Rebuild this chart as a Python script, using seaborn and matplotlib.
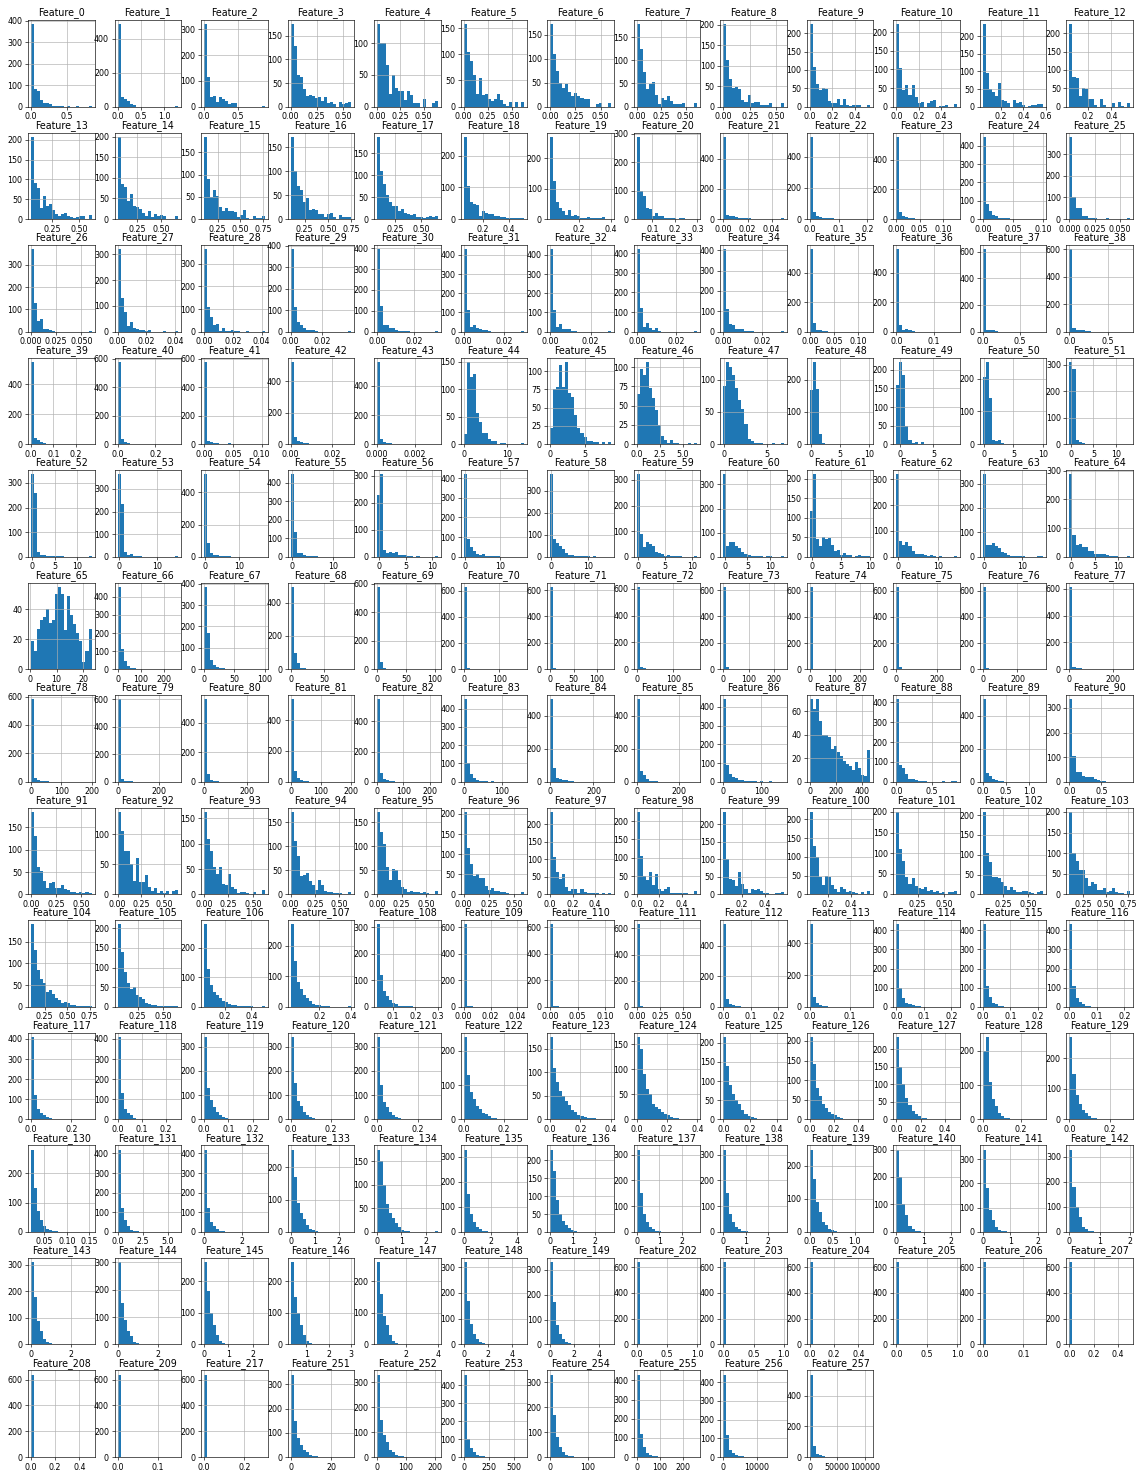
import numpy as np
import pandas as pd
import matplotlib
matplotlib.use("Agg")
import matplotlib.pyplot as plt
from matplotlib.ticker import MaxNLocator
import seaborn as sns

# ---------------------------------------------------------------------------
# Feature names, value ranges (lo, hi) and 20-bin histogram counts per row
# ---------------------------------------------------------------------------
names_r1 = [f"Feature_{i}" for i in range(0, 13)]
ranges_r1 = [(0, 0.85), (0, 1.3), (0, 0.9), (0, 0.58), (0, 0.65), (0, 0.63), (0, 0.6),
             (0, 0.62), (0, 0.57), (0, 0.54), (0, 0.54), (0.04, 0.58), (0.04, 0.56)]
counts_r1 = [
    [385, 80, 72, 32, 15, 18, 10, 5, 2, 5, 5, 0, 2, 0, 0, 5, 0, 0, 0, 1],
    [485, 55, 45, 35, 15, 8, 0, 0, 0, 0, 0, 0, 0, 0, 0, 0, 0, 0, 0, 1],
    [320, 115, 38, 42, 18, 38, 28, 20, 10, 15, 15, 0, 0, 0, 0, 0, 0, 0, 0, 1],
    [175, 128, 68, 62, 38, 22, 25, 22, 18, 20, 12, 20, 8, 10, 5, 0, 10, 5, 8, 10],
    [130, 100, 100, 65, 20, 50, 30, 25, 25, 10, 25, 18, 5, 5, 0, 12, 0, 0, 6, 8],
    [158, 105, 88, 60, 25, 55, 22, 25, 15, 10, 15, 25, 12, 5, 2, 8, 0, 8, 0, 8],
    [172, 110, 75, 50, 38, 48, 30, 22, 28, 22, 18, 15, 15, 0, 0, 5, 8, 0, 0, 8],
    [178, 125, 75, 38, 48, 52, 25, 5, 18, 15, 22, 12, 5, 5, 5, 8, 0, 0, 0, 8],
    [202, 115, 68, 45, 48, 42, 15, 10, 28, 8, 10, 10, 5, 5, 5, 8, 0, 0, 0, 8],
    [225, 108, 62, 45, 52, 48, 15, 10, 10, 20, 5, 20, 5, 2, 5, 5, 5, 0, 0, 5],
    [222, 105, 45, 58, 32, 58, 25, 10, 12, 0, 10, 15, 18, 0, 2, 2, 5, 0, 0, 8],
    [235, 95, 50, 42, 30, 68, 20, 15, 10, 0, 18, 10, 12, 5, 0, 2, 5, 5, 8, 8],
    [225, 82, 78, 28, 50, 48, 22, 22, 5, 0, 22, 5, 0, 0, 10, 0, 12, 2, 0, 10],
]

names_r2 = [f"Feature_{i}" for i in range(13, 26)]
ranges_r2 = [(0.05, 0.62), (0.05, 0.68), (0.1, 0.77), (0.1, 0.75), (0.08, 0.66), (0.05, 0.52),
             (0.02, 0.4), (0.03, 0.3), (0, 0.05), (0, 0.21), (0, 0.13), (0, 0.1), (0, 0.06)]
counts_r2 = [
    [208, 92, 78, 28, 58, 32, 38, 22, 12, 8, 12, 15, 8, 5, 2, 5, 8, 8, 0, 10],
    [200, 85, 78, 45, 62, 32, 30, 25, 15, 8, 20, 5, 12, 8, 10, 8, 0, 0, 0, 8],
    [185, 90, 50, 65, 52, 28, 18, 25, 18, 18, 15, 5, 10, 20, 2, 0, 8, 2, 2, 8],
    [172, 100, 70, 60, 35, 45, 20, 22, 20, 10, 10, 5, 10, 12, 5, 0, 8, 5, 5, 5],
    [188, 110, 80, 55, 40, 30, 30, 18, 22, 15, 12, 10, 12, 5, 5, 2, 5, 8, 5, 8],
    [260, 105, 55, 48, 45, 10, 25, 18, 15, 15, 10, 10, 8, 8, 2, 2, 2, 5, 5, 2],
    [270, 125, 55, 38, 25, 15, 30, 10, 12, 10, 5, 5, 8, 5, 5, 5, 5, 8, 2, 2],
    [290, 100, 82, 40, 35, 12, 20, 10, 12, 5, 5, 5, 5, 2, 5, 5, 0, 2, 0, 2],
    [545, 30, 20, 18, 12, 8, 5, 5, 5, 2, 2, 2, 0, 0, 0, 0, 0, 0, 0, 5],
    [530, 45, 22, 12, 8, 8, 5, 5, 2, 2, 2, 2, 0, 2, 0, 2, 0, 0, 0, 2],
    [555, 45, 20, 12, 5, 5, 3, 3, 3, 3, 2, 3, 2, 2, 2, 2, 0, 0, 0, 3],
    [450, 80, 45, 25, 15, 8, 8, 5, 5, 0, 0, 0, 0, 0, 0, 3, 0, 3, 0, 3],
    [380, 100, 52, 50, 15, 15, 5, 5, 3, 0, 0, 2, 5, 0, 0, 0, 0, 0, 0, 3],
]

names_r3 = [f"Feature_{i}" for i in range(26, 39)]
ranges_r3 = [(0, 0.06), (0, 0.042), (0, 0.042), (0, 0.038), (0, 0.033), (0, 0.03), (0, 0.03),
             (0, 0.031), (0, 0.031), (0, 0.125), (0, 0.16), (0, 0.82), (0, 0.78)]
counts_r3 = [
    [370, 130, 48, 58, 10, 10, 8, 5, 0, 0, 0, 0, 0, 0, 0, 0, 0, 0, 0, 1],
    [320, 132, 75, 22, 38, 15, 10, 5, 5, 2, 5, 0, 0, 0, 0, 2, 0, 0, 0, 1],
    [365, 110, 65, 30, 32, 5, 15, 5, 5, 8, 5, 5, 0, 0, 3, 0, 0, 0, 0, 1],
    [385, 115, 45, 30, 15, 10, 8, 8, 2, 0, 0, 0, 0, 0, 0, 0, 0, 0, 0, 1],
    [395, 122, 32, 32, 18, 18, 10, 2, 5, 3, 5, 0, 0, 0, 0, 0, 0, 0, 0, 1],
    [430, 115, 25, 35, 20, 12, 10, 8, 2, 0, 0, 0, 0, 0, 0, 0, 0, 0, 0, 1],
    [430, 115, 25, 40, 15, 12, 12, 5, 2, 0, 0, 0, 0, 0, 0, 0, 0, 0, 0, 1],
    [420, 118, 25, 45, 18, 8, 18, 5, 0, 0, 0, 0, 0, 0, 0, 0, 0, 0, 0, 1],
    [405, 110, 40, 32, 15, 15, 12, 5, 2, 2, 0, 0, 0, 0, 0, 0, 0, 0, 0, 5],
    [560, 60, 12, 8, 5, 2, 0, 0, 0, 0, 0, 0, 0, 0, 0, 0, 0, 0, 0, 1],
    [560, 45, 12, 20, 8, 5, 0, 0, 0, 0, 0, 0, 0, 0, 0, 0, 0, 0, 0, 1],
    [620, 15, 10, 10, 2, 0, 0, 0, 0, 0, 0, 0, 0, 0, 0, 0, 0, 0, 0, 1],
    [600, 25, 10, 10, 10, 2, 5, 0, 0, 0, 0, 0, 0, 0, 0, 0, 0, 0, 0, 1],
]

names_r4 = [f"Feature_{i}" for i in range(39, 52)]
ranges_r4 = [(0, 0.27), (0, 0.32), (0, 0.105), (0, 0.029), (0, 0.0032), (0, 14), (0, 8.8),
             (0, 6.6), (-0.1, 7), (-0.2, 10.2), (-0.5, 8.5), (-0.1, 10), (-0.4, 13.2)]
counts_r4 = [
    [550, 40, 25, 15, 5, 0, 0, 0, 0, 0, 0, 0, 0, 0, 0, 0, 0, 0, 0, 1],
    [580, 40, 15, 10, 3, 0, 0, 0, 0, 0, 0, 0, 0, 0, 0, 0, 0, 0, 0, 1],
    [580, 20, 15, 8, 5, 3, 2, 2, 5, 2, 0, 0, 0, 0, 0, 0, 0, 0, 0, 1],
    [525, 45, 20, 15, 8, 5, 3, 2, 2, 0, 0, 0, 0, 0, 0, 0, 0, 0, 0, 1],
    [565, 35, 15, 10, 5, 3, 2, 0, 0, 2, 0, 2, 0, 0, 0, 0, 0, 0, 0, 1],
    [18, 150, 122, 128, 57, 40, 20, 20, 10, 5, 5, 0, 2, 2, 0, 0, 0, 0, 0, 2],
    [22, 75, 78, 108, 78, 113, 70, 65, 40, 22, 15, 10, 5, 5, 3, 3, 0, 3, 0, 3],
    [65, 98, 90, 107, 73, 60, 45, 25, 10, 5, 2, 5, 2, 2, 0, 0, 0, 1, 0, 1],
    [90, 128, 120, 108, 88, 68, 55, 32, 8, 5, 2, 2, 2, 0, 0, 0, 2, 0, 0, 2],
    [168, 255, 170, 30, 5, 2, 2, 2, 0, 0, 0, 0, 0, 0, 0, 0, 0, 0, 0, 1],
    [160, 222, 185, 48, 12, 3, 5, 0, 5, 0, 0, 0, 0, 0, 0, 0, 0, 0, 0, 1],
    [205, 252, 140, 12, 10, 12, 3, 2, 0, 0, 0, 0, 0, 0, 0, 0, 0, 0, 0, 1],
    [312, 285, 15, 8, 5, 2, 2, 2, 2, 2, 0, 0, 0, 0, 0, 0, 0, 0, 0, 1],
]

names_r5 = [f"Feature_{i}" for i in range(52, 65)]
ranges_r5 = [(-0.2, 13.2), (-0.3, 15.5), (-0.3, 17.5), (-0.4, 14.5), (-0.3, 11), (-0.3, 17),
             (-0.3, 16), (-0.3, 11), (-0.3, 13), (-0.3, 10), (-0.3, 14.5), (-0.3, 15.5), (-0.3, 12.5)]
counts_r5 = [
    [335, 260, 20, 8, 5, 2, 2, 2, 2, 2, 2, 0, 0, 0, 0, 0, 0, 0, 0, 1],
    [365, 235, 20, 8, 10, 3, 3, 2, 0, 0, 0, 0, 0, 0, 0, 0, 0, 0, 0, 1],
    [512, 85, 25, 12, 8, 3, 3, 2, 2, 0, 0, 0, 0, 0, 0, 0, 0, 0, 0, 1],
    [445, 135, 20, 20, 10, 5, 3, 2, 2, 0, 0, 0, 0, 0, 0, 0, 0, 0, 0, 1],
    [230, 305, 25, 15, 18, 15, 18, 5, 5, 5, 2, 2, 0, 2, 0, 0, 0, 0, 0, 1],
    [420, 88, 50, 30, 15, 8, 15, 5, 5, 2, 2, 2, 0, 0, 0, 0, 0, 0, 0, 1],
    [375, 80, 62, 48, 35, 15, 10, 8, 5, 5, 3, 3, 2, 0, 2, 0, 0, 0, 0, 1],
    [322, 90, 38, 58, 50, 40, 18, 15, 10, 2, 5, 2, 2, 2, 2, 0, 0, 0, 0, 2],
    [342, 45, 62, 60, 45, 35, 20, 10, 8, 3, 2, 2, 2, 0, 2, 2, 0, 0, 0, 2],
    [118, 212, 45, 28, 50, 45, 48, 30, 15, 18, 5, 10, 5, 5, 0, 2, 5, 2, 2, 2],
    [320, 62, 45, 58, 42, 22, 12, 10, 10, 5, 2, 5, 2, 0, 2, 0, 0, 0, 0, 2],
    [338, 48, 50, 55, 42, 35, 18, 15, 8, 5, 5, 2, 2, 2, 0, 0, 0, 0, 2, 2],
    [288, 75, 42, 45, 35, 35, 20, 20, 10, 8, 10, 8, 5, 2, 2, 2, 0, 0, 0, 2],
]

names_r6 = [f"Feature_{i}" for i in range(65, 78)]
ranges_r6 = [(0.5, 23), (0, 260), (0, 100), (0, 90), (0, 105), (0, 170), (0, 130),
             (0, 165), (0, 240), (0, 240), (0, 300), (0, 350), (0, 280)]
counts_r6 = [
    [19, 12, 27, 33, 35, 40, 31, 33, 50, 55, 50, 26, 49, 36, 30, 24, 19, 5, 12, 27],
    [455, 110, 48, 18, 8, 5, 2, 2, 2, 0, 2, 0, 0, 0, 0, 0, 0, 0, 0, 1],
    [385, 170, 45, 20, 12, 5, 5, 3, 2, 2, 2, 3, 2, 2, 0, 0, 2, 0, 0, 2],
    [495, 100, 35, 10, 5, 2, 2, 0, 0, 0, 0, 0, 0, 0, 0, 0, 0, 0, 0, 1],
    [580, 50, 10, 5, 2, 0, 0, 0, 0, 0, 0, 0, 0, 0, 0, 0, 0, 0, 0, 1],
    [630, 10, 3, 5, 0, 0, 0, 0, 0, 0, 0, 0, 0, 0, 0, 0, 0, 0, 0, 1],
    [625, 10, 3, 3, 0, 0, 0, 0, 0, 0, 0, 0, 0, 0, 0, 0, 0, 0, 0, 1],
    [615, 20, 10, 5, 5, 0, 0, 0, 0, 0, 0, 0, 0, 0, 0, 0, 0, 0, 0, 1],
    [625, 15, 5, 5, 5, 0, 0, 3, 0, 0, 0, 0, 0, 0, 0, 0, 0, 0, 0, 1],
    [630, 5, 5, 0, 3, 3, 0, 3, 0, 0, 0, 0, 0, 0, 0, 0, 0, 0, 0, 1],
    [630, 15, 5, 5, 0, 3, 0, 0, 0, 0, 0, 0, 0, 0, 0, 0, 0, 0, 0, 1],
    [630, 10, 5, 0, 0, 0, 3, 0, 0, 0, 0, 0, 0, 0, 0, 0, 0, 0, 0, 1],
    [615, 18, 12, 10, 0, 5, 0, 3, 0, 0, 0, 0, 0, 0, 0, 0, 0, 0, 0, 1],
]

names_r7 = [f"Feature_{i}" for i in range(78, 91)]
ranges_r7 = [(0, 200), (0, 290), (0, 280), (0, 200), (0, 230), (0, 160), (0, 280),
             (0, 290), (0, 160), (0, 460), (0, 0.85), (0, 1.3), (0, 0.95)]
counts_r7 = [
    [580, 30, 12, 8, 5, 3, 0, 0, 0, 0, 0, 0, 0, 0, 0, 0, 0, 0, 0, 1],
    [600, 20, 8, 5, 3, 2, 2, 0, 0, 0, 0, 0, 0, 0, 0, 0, 0, 0, 0, 1],
    [560, 50, 15, 8, 3, 2, 0, 0, 0, 0, 0, 0, 0, 0, 0, 0, 0, 0, 0, 1],
    [535, 70, 25, 10, 5, 2, 0, 0, 0, 0, 0, 0, 0, 0, 0, 0, 0, 0, 0, 1],
    [545, 55, 20, 10, 5, 2, 0, 0, 0, 0, 0, 0, 0, 0, 0, 0, 0, 0, 0, 1],
    [450, 100, 45, 20, 10, 5, 3, 2, 0, 2, 0, 0, 0, 0, 0, 0, 0, 0, 0, 1],
    [500, 85, 25, 15, 8, 8, 5, 2, 0, 0, 0, 0, 0, 0, 0, 0, 0, 0, 0, 1],
    [500, 65, 40, 20, 5, 3, 5, 0, 0, 0, 0, 0, 0, 0, 0, 0, 0, 0, 0, 1],
    [440, 90, 40, 25, 18, 10, 8, 5, 5, 5, 3, 0, 3, 0, 0, 2, 0, 0, 0, 1],
    [70, 62, 70, 52, 40, 40, 38, 28, 30, 25, 22, 18, 15, 13, 10, 17, 12, 6, 5, 27],
    [415, 85, 70, 40, 15, 15, 8, 5, 5, 5, 0, 0, 0, 0, 0, 2, 0, 0, 2, 2],
    [500, 55, 38, 20, 12, 5, 2, 0, 0, 0, 0, 0, 0, 0, 0, 0, 0, 0, 0, 1],
    [335, 105, 40, 38, 25, 20, 20, 20, 12, 8, 5, 2, 0, 0, 0, 0, 0, 0, 0, 1],
]

names_r8 = [f"Feature_{i}" for i in range(91, 104)]
ranges_r8 = [(0, 0.6), (0, 0.65), (0, 0.62), (0, 0.62), (0, 0.62), (0, 0.6), (0, 0.54),
             (0, 0.54), (0.04, 0.56), (0.04, 0.57), (0.05, 0.62), (0.05, 0.65), (0.1, 0.77)]
counts_r8 = [
    [185, 132, 62, 52, 30, 15, 25, 28, 15, 15, 20, 12, 10, 5, 5, 2, 5, 2, 5, 3],
    [137, 105, 72, 72, 50, 22, 60, 20, 20, 32, 12, 5, 10, 3, 5, 2, 5, 0, 5, 8],
    [163, 110, 85, 55, 40, 55, 20, 18, 40, 15, 10, 2, 5, 5, 2, 0, 5, 0, 0, 8],
    [172, 112, 80, 38, 40, 45, 28, 20, 10, 30, 20, 8, 5, 5, 2, 2, 2, 0, 0, 5],
    [172, 130, 105, 58, 30, 53, 50, 30, 15, 12, 5, 8, 5, 5, 2, 5, 2, 0, 0, 8],
    [205, 115, 75, 45, 50, 40, 40, 20, 10, 15, 8, 8, 5, 5, 3, 2, 2, 0, 0, 5],
    [235, 105, 65, 45, 58, 20, 10, 15, 15, 5, 15, 8, 3, 5, 3, 5, 0, 5, 0, 5],
    [225, 105, 50, 40, 60, 25, 55, 15, 8, 15, 20, 5, 3, 5, 3, 3, 3, 0, 0, 8],
    [235, 100, 45, 40, 25, 65, 30, 15, 5, 15, 12, 15, 10, 5, 5, 2, 2, 5, 5, 8],
    [220, 130, 100, 45, 25, 50, 45, 25, 15, 5, 20, 15, 5, 8, 5, 3, 2, 5, 0, 8],
    [200, 110, 80, 42, 25, 40, 20, 15, 12, 18, 8, 10, 5, 8, 3, 5, 2, 5, 5, 8],
    [208, 105, 82, 45, 45, 40, 30, 22, 10, 18, 10, 5, 5, 8, 8, 5, 3, 2, 5, 8],
    [200, 100, 80, 60, 58, 40, 20, 30, 25, 10, 10, 15, 5, 8, 15, 5, 3, 3, 0, 8],
]

names_r9 = [f"Feature_{i}" for i in range(104, 117)]
ranges_r9 = [(0.1, 0.77), (0.05, 0.65), (0.04, 0.5), (0.02, 0.4), (0.03, 0.3), (0, 0.045), (0, 0.11),
             (0, 0.65), (0, 0.22), (0, 0.15), (0, 0.22), (0, 0.22), (0, 0.22)]
counts_r9 = [
    [190, 130, 85, 65, 55, 35, 40, 30, 20, 15, 10, 12, 8, 5, 5, 3, 3, 2, 2, 3],
    [210, 140, 90, 60, 45, 50, 30, 25, 20, 10, 8, 5, 5, 3, 3, 2, 2, 2, 2, 3],
    [280, 130, 75, 50, 40, 30, 20, 15, 10, 5, 5, 3, 3, 2, 2, 2, 0, 0, 0, 2],
    [270, 150, 80, 60, 40, 30, 20, 10, 5, 5, 3, 3, 2, 0, 0, 0, 0, 0, 0, 2],
    [310, 120, 60, 40, 25, 15, 10, 5, 5, 3, 2, 2, 0, 0, 0, 0, 0, 0, 0, 1],
    [620, 10, 5, 0, 0, 0, 0, 0, 0, 0, 0, 0, 0, 0, 0, 0, 0, 0, 0, 1],
    [620, 10, 5, 0, 0, 0, 0, 0, 0, 0, 0, 0, 0, 0, 0, 0, 0, 0, 0, 1],
    [630, 5, 0, 0, 0, 0, 0, 0, 0, 0, 0, 0, 0, 0, 0, 0, 0, 0, 0, 1],
    [540, 50, 20, 10, 5, 3, 0, 0, 0, 0, 0, 0, 0, 0, 0, 0, 0, 0, 0, 1],
    [520, 60, 25, 10, 5, 3, 0, 0, 0, 0, 0, 0, 0, 0, 0, 0, 0, 0, 0, 1],
    [430, 100, 45, 20, 15, 10, 5, 3, 0, 0, 0, 0, 0, 0, 0, 0, 0, 0, 0, 1],
    [430, 110, 50, 20, 15, 5, 3, 0, 0, 0, 0, 0, 0, 0, 0, 0, 0, 0, 0, 1],
    [430, 110, 45, 25, 15, 5, 3, 0, 0, 0, 0, 0, 0, 0, 0, 0, 0, 0, 0, 1],
]

names_r10 = [f"Feature_{i}" for i in range(117, 130)]
ranges_r10 = [(0, 0.3), (0, 0.25), (0, 0.25), (0, 0.3), (0, 0.3), (0, 0.3), (0, 0.4),
              (0, 0.4), (0, 0.45), (0, 0.5), (0, 0.5), (0, 0.32), (0, 0.3)]
counts_r10 = [
    [410, 120, 50, 30, 20, 10, 5, 3, 2, 0, 0, 0, 0, 0, 0, 0, 0, 0, 0, 1],
    [410, 130, 50, 30, 20, 5, 3, 2, 0, 0, 0, 0, 0, 0, 0, 0, 0, 0, 0, 1],
    [340, 130, 80, 50, 30, 20, 10, 5, 3, 2, 0, 0, 0, 0, 0, 0, 0, 0, 0, 1],
    [340, 150, 75, 55, 30, 20, 10, 5, 3, 0, 0, 0, 0, 0, 0, 0, 0, 0, 0, 1],
    [340, 140, 70, 50, 30, 20, 10, 5, 3, 2, 0, 0, 0, 0, 0, 0, 0, 0, 0, 1],
    [240, 130, 80, 60, 40, 30, 20, 15, 10, 5, 3, 2, 0, 0, 0, 0, 0, 0, 0, 1],
    [175, 110, 80, 60, 50, 40, 30, 20, 15, 10, 8, 5, 3, 2, 2, 0, 0, 0, 0, 1],
    [165, 140, 90, 60, 50, 30, 25, 20, 15, 10, 8, 5, 3, 2, 0, 0, 0, 0, 0, 1],
    [215, 140, 90, 65, 50, 40, 25, 15, 10, 5, 3, 2, 2, 0, 0, 0, 0, 0, 0, 1],
    [210, 140, 80, 60, 40, 30, 20, 15, 10, 5, 3, 2, 2, 0, 0, 0, 0, 0, 0, 1],
    [235, 150, 100, 60, 40, 25, 15, 10, 5, 3, 2, 2, 0, 0, 0, 0, 0, 0, 0, 1],
    [200, 240, 110, 60, 40, 20, 10, 5, 3, 2, 0, 0, 0, 0, 0, 0, 0, 0, 0, 1],
    [270, 150, 80, 50, 30, 20, 10, 5, 3, 2, 0, 0, 0, 0, 0, 0, 0, 0, 0, 1],
]

names_r11 = [f"Feature_{i}" for i in range(130, 143)]
ranges_r11 = [(0.02, 0.155), (0, 6), (0, 3.2), (0, 2.5), (0, 2.5), (0, 4.5), (0, 2.7),
              (0, 2.7), (0, 2.7), (0, 1.35), (0, 2.2), (0, 2.2), (0, 2)]
counts_r11 = [
    [280, 150, 70, 40, 20, 10, 5, 3, 2, 0, 0, 0, 0, 0, 0, 0, 0, 0, 0, 1],
    [420, 120, 60, 30, 10, 5, 3, 0, 0, 0, 0, 0, 0, 0, 0, 0, 0, 0, 0, 1],
    [420, 120, 50, 30, 15, 5, 3, 0, 0, 0, 0, 0, 0, 0, 0, 0, 0, 0, 0, 1],
    [255, 170, 90, 60, 40, 20, 10, 5, 3, 0, 0, 0, 0, 0, 0, 0, 0, 0, 0, 1],
    [175, 150, 100, 60, 40, 30, 20, 10, 5, 3, 2, 0, 0, 0, 0, 0, 0, 0, 0, 1],
    [330, 150, 70, 40, 20, 10, 5, 3, 0, 0, 0, 0, 0, 0, 0, 0, 0, 0, 0, 1],
    [230, 170, 90, 50, 30, 20, 10, 5, 3, 0, 0, 0, 0, 0, 0, 0, 0, 0, 0, 1],
    [320, 150, 70, 40, 20, 10, 5, 3, 0, 0, 0, 0, 0, 0, 0, 0, 0, 0, 0, 1],
    [320, 150, 70, 40, 20, 10, 5, 3, 0, 0, 0, 0, 0, 0, 0, 0, 0, 0, 0, 1],
    [250, 160, 90, 60, 30, 20, 10, 5, 3, 0, 0, 0, 0, 0, 0, 0, 0, 0, 0, 1],
    [300, 200, 100, 60, 20, 10, 5, 3, 0, 0, 0, 0, 0, 0, 0, 0, 0, 0, 0, 1],
    [340, 180, 90, 50, 20, 10, 5, 3, 0, 0, 0, 0, 0, 0, 0, 0, 0, 0, 0, 1],
    [330, 180, 100, 60, 20, 10, 5, 3, 0, 0, 0, 0, 0, 0, 0, 0, 0, 0, 0, 1],
]

names_r12 = ([f"Feature_{i}" for i in range(143, 150)]
             + [f"Feature_{i}" for i in range(202, 208)])
ranges_r12 = [(0, 3), (0, 3), (0, 2.5), (0.3, 3.0), (0.2, 4), (0, 5), (0, 5),
              (0, 1.0), (0, 1.0), (0, 0.5), (0, 1.0), (0, 0.15), (0, 0.5)]
counts_r12 = [
    [310, 180, 90, 50, 20, 10, 5, 3, 0, 0, 0, 0, 0, 0, 0, 0, 0, 0, 0, 1],
    [300, 150, 90, 50, 30, 10, 5, 3, 0, 0, 0, 0, 0, 0, 0, 0, 0, 0, 0, 1],
    [260, 170, 100, 60, 30, 10, 5, 3, 0, 0, 0, 0, 0, 0, 0, 0, 0, 0, 0, 1],
    [260, 150, 100, 60, 30, 10, 5, 3, 0, 0, 0, 0, 0, 0, 0, 0, 0, 0, 0, 1],
    [260, 160, 90, 60, 30, 10, 5, 3, 0, 0, 0, 0, 0, 0, 0, 0, 0, 0, 0, 1],
    [320, 170, 80, 40, 20, 10, 5, 3, 0, 0, 0, 0, 0, 0, 0, 0, 0, 0, 0, 1],
    [330, 170, 80, 40, 20, 10, 5, 3, 0, 0, 0, 0, 0, 0, 0, 0, 0, 0, 0, 1],
    [640, 0, 0, 0, 0, 0, 0, 0, 0, 0, 0, 0, 0, 0, 0, 0, 0, 0, 0, 1],
    [640, 0, 0, 0, 0, 0, 0, 0, 0, 0, 0, 0, 0, 0, 0, 0, 0, 0, 0, 1],
    [640, 0, 0, 0, 0, 0, 0, 0, 0, 0, 0, 0, 0, 0, 0, 0, 0, 0, 0, 1],
    [640, 0, 0, 0, 0, 0, 0, 0, 0, 0, 0, 0, 0, 0, 0, 0, 0, 0, 0, 1],
    [640, 0, 0, 0, 0, 0, 0, 0, 0, 0, 0, 0, 0, 0, 0, 0, 0, 0, 0, 1],
    [640, 0, 0, 0, 0, 0, 0, 0, 0, 0, 0, 0, 0, 0, 0, 0, 0, 0, 0, 1],
]

names_r13 = ["Feature_208", "Feature_209", "Feature_217", "Feature_251", "Feature_252",
             "Feature_253", "Feature_254", "Feature_255", "Feature_256", "Feature_257"]
ranges_r13 = [(0, 0.5), (0, 0.15), (0, 0.3), (0, 30), (0, 210), (0, 600), (0, 160),
              (0, 260), (0, 18000), (0, 110000)]
counts_r13 = [
    [640, 0, 0, 0, 0, 0, 0, 0, 0, 0, 0, 0, 0, 0, 0, 0, 0, 0, 0, 1],
    [640, 0, 0, 0, 0, 0, 0, 0, 0, 0, 0, 0, 0, 0, 0, 0, 0, 0, 0, 1],
    [640, 0, 0, 0, 0, 0, 0, 0, 0, 0, 0, 0, 0, 0, 0, 0, 0, 0, 0, 1],
    [340, 150, 80, 50, 30, 20, 10, 5, 3, 0, 0, 0, 0, 0, 0, 0, 0, 0, 0, 1],
    [330, 150, 90, 60, 30, 20, 10, 5, 3, 0, 0, 0, 0, 0, 0, 0, 0, 0, 0, 1],
    [460, 100, 50, 30, 10, 5, 3, 0, 0, 0, 0, 0, 0, 0, 0, 0, 0, 0, 0, 1],
    [330, 170, 80, 40, 20, 10, 5, 3, 0, 0, 0, 0, 0, 0, 0, 0, 0, 0, 0, 1],
    [430, 120, 50, 20, 10, 5, 3, 0, 0, 0, 0, 0, 0, 0, 0, 0, 0, 0, 0, 1],
    [440, 120, 40, 20, 10, 5, 3, 0, 0, 0, 0, 0, 0, 0, 0, 0, 0, 0, 0, 1],
    [540, 70, 20, 10, 5, 3, 0, 0, 0, 0, 0, 0, 0, 0, 0, 0, 0, 0, 0, 1],
]

all_names = (names_r1 + names_r2 + names_r3 + names_r4 + names_r5 + names_r6 + names_r7
             + names_r8 + names_r9 + names_r10 + names_r11 + names_r12 + names_r13)
all_ranges = (ranges_r1 + ranges_r2 + ranges_r3 + ranges_r4 + ranges_r5 + ranges_r6 + ranges_r7
              + ranges_r8 + ranges_r9 + ranges_r10 + ranges_r11 + ranges_r12 + ranges_r13)
all_counts = (counts_r1 + counts_r2 + counts_r3 + counts_r4 + counts_r5 + counts_r6 + counts_r7
              + counts_r8 + counts_r9 + counts_r10 + counts_r11 + counts_r12 + counts_r13)

# ---------------------------------------------------------------------------
# Figure: 13 x 13 grid of histograms
# ---------------------------------------------------------------------------
DPI = 57
fig, axes = plt.subplots(13, 13, figsize=(1138 / DPI, 1471 / DPI), dpi=DPI)
fig.subplots_adjust(left=0.0246, right=0.9956, top=0.9864, bottom=0.0095,
                    wspace=0.3, hspace=0.3)
axes = axes.ravel()

for ax, name, (lo, hi), counts in zip(axes, all_names, all_ranges, all_counts):
    nbins = len(counts)
    width = (hi - lo) / nbins
    frame = pd.DataFrame({
        "value": [lo + width * (i + 0.5) for i in range(nbins)],
        "count": counts,
    })
    sns.histplot(data=frame, x="value", weights="count", bins=nbins, binrange=(lo, hi),
                 ax=ax, color="#1f77b4", alpha=1.0, linewidth=0, edgecolor="none")
    ax.set_title(name)
    ax.set_xlabel("")
    ax.set_ylabel("")
    ax.xaxis.set_major_locator(MaxNLocator(nbins=3, steps=[1, 2, 2.5, 5, 10]))
    ax.grid(True)

for ax in axes[len(all_names):]:
    ax.set_visible(False)

fig.savefig("out.png", dpi=DPI)
